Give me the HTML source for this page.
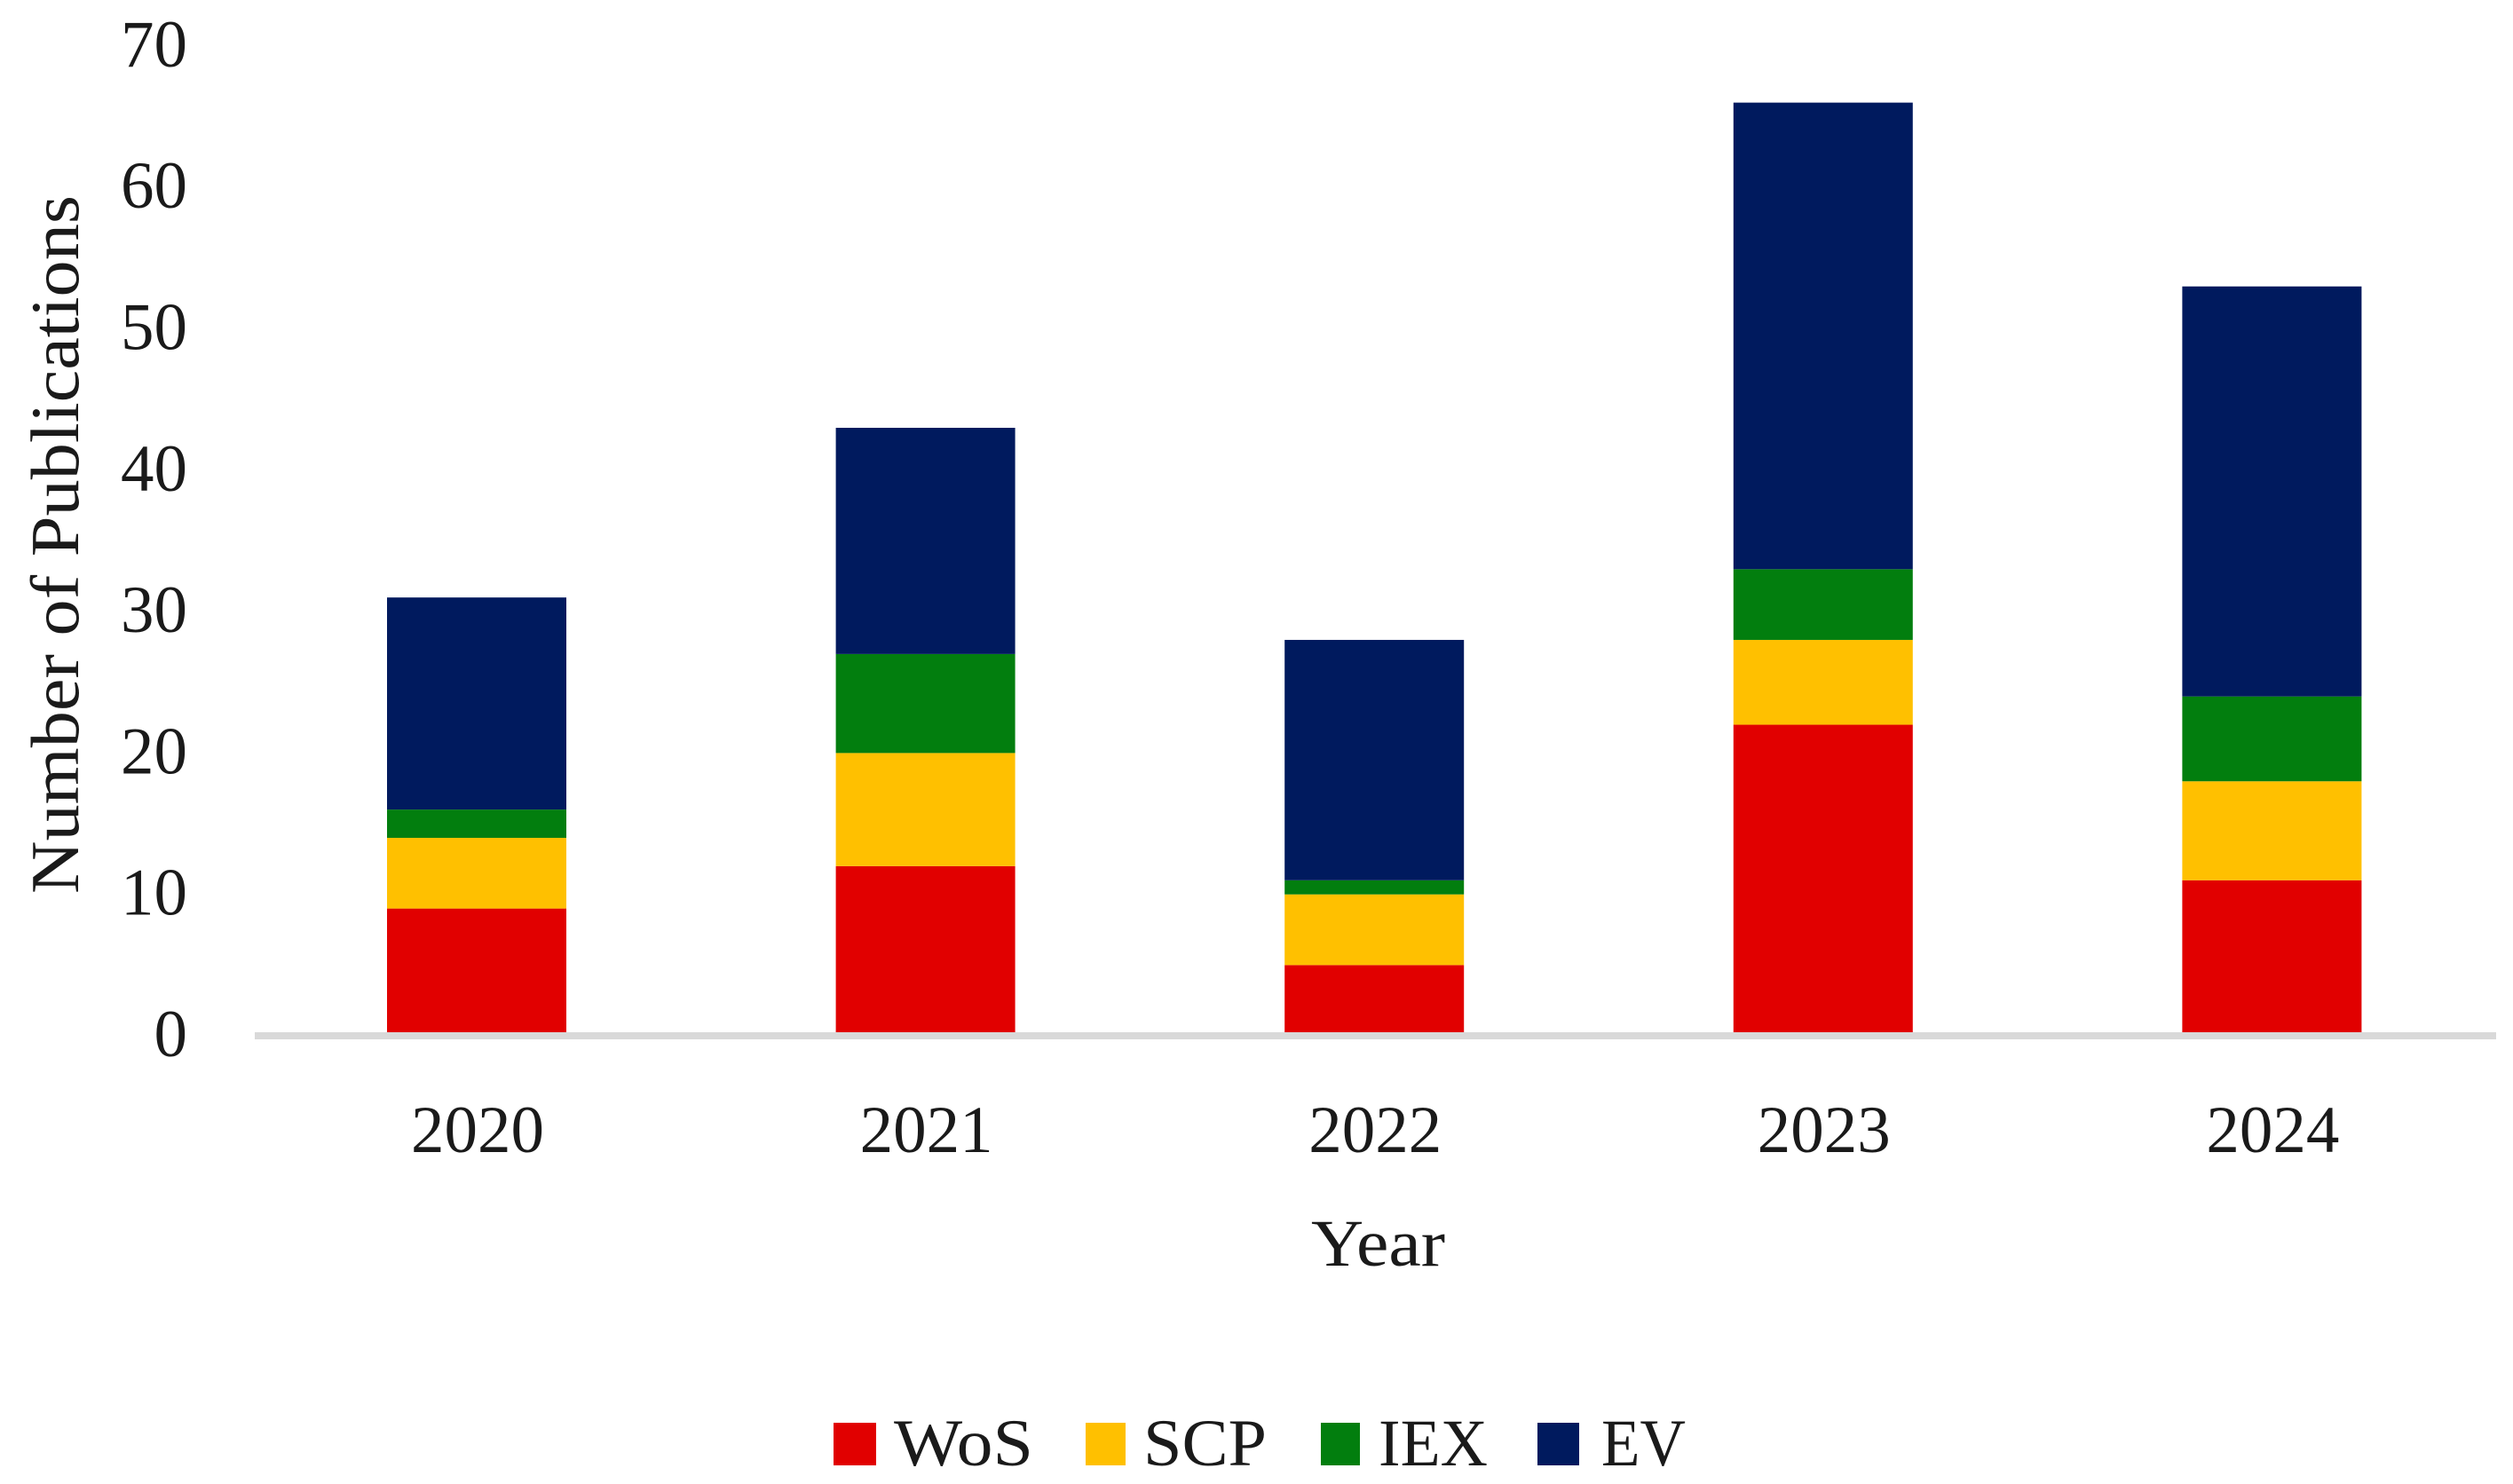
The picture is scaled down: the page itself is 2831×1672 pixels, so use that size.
<!DOCTYPE html>
<html lang="en">
<head>
<meta charset="utf-8">
<title>Number of Publications by Year</title>
<style>
html,body{margin:0;padding:0;background:#fff;}
svg{display:block;}
text{font-family:"Liberation Serif",serif;fill:#1a1a1a;}
</style>
</head>
<body>
<svg id="chart" xmlns="http://www.w3.org/2000/svg" width="2831" height="1672" viewBox="0 0 2831 1672">
  <rect x="0" y="0" width="2831" height="1672" fill="#fff"/>
  <g id="bars"></g>
  <rect x="287" y="1163" width="2525" height="8" fill="#d9d9d9"/>
  <g id="yticks"></g>
  <g id="xticks"></g>
  <text transform="translate(88,1007) rotate(-90)" font-size="77" textLength="787" lengthAdjust="spacingAndGlyphs">Number of Publications</text>
  <text x="1477" y="1426" font-size="75" textLength="151" lengthAdjust="spacingAndGlyphs">Year</text>
  <g id="legend"></g>
</svg>
<script>
const categories = ['2020', '2021', '2022', '2023', '2024'];
const wos = [9, 12, 5, 22, 11];
const scp = [5, 8, 5, 6, 7];
const iex = [2, 7, 1, 5, 6];
const ev = [15, 16, 17, 33, 29];
const yTickValues = [0, 10, 20, 30, 40, 50, 60, 70];
const seriesNames = ['WoS', 'SCP', 'IEX', 'EV'];

const NS = 'http://www.w3.org/2000/svg';
const seriesValues = [wos, scp, iex, ev];
const seriesColors = ['#e10000', '#ffc000', '#027e0e', '#001a5e'];

function yScale(v) { return 1167 - v * 15.93; }
function yLabelScale(v) { return 1190 - v * 15.93; }
function xCenter(i) { return 537 + 505.6 * i; }
const barWidth = 202;

const barsGroup = document.getElementById('bars');
categories.forEach(function (cat, i) {
  let cumulative = 0;
  seriesValues.forEach(function (values, s) {
    const top = cumulative + values[i];
    const r = document.createElementNS(NS, 'rect');
    r.setAttribute('x', xCenter(i) - barWidth / 2);
    r.setAttribute('y', yScale(top));
    r.setAttribute('width', barWidth);
    r.setAttribute('height', yScale(cumulative) - yScale(top));
    r.setAttribute('fill', seriesColors[s]);
    
    
    barsGroup.appendChild(r);
    cumulative = top;
  });
});

const yTicksGroup = document.getElementById('yticks');
yTickValues.forEach(function (v) {
  const t = document.createElementNS(NS, 'text');
  t.setAttribute('x', 211);
  t.setAttribute('y', yLabelScale(v));
  t.setAttribute('font-size', 75);
  t.setAttribute('text-anchor', 'end');
  
  
  t.textContent = String(v);
  yTicksGroup.appendChild(t);
});

const xTicksGroup = document.getElementById('xticks');
categories.forEach(function (cat, i) {
  const t = document.createElementNS(NS, 'text');
  t.setAttribute('x', xCenter(i) + 1);
  t.setAttribute('y', 1298);
  t.setAttribute('font-size', 75);
  t.setAttribute('text-anchor', 'middle');
  
  
  t.textContent = cat;
  xTicksGroup.appendChild(t);
});

const legendGroup = document.getElementById('legend');
const legendSwatchX = [939, 1223, 1488, 1732];
const legendSwatchW = [48, 45, 44, 47];
const legendTextX = [1007, 1288, 1553, 1804];
const legendTextW = [157, 139, 123, 95];
seriesNames.forEach(function (name, s) {
  const swatch = document.createElementNS(NS, 'rect');
  swatch.setAttribute('x', legendSwatchX[s]);
  swatch.setAttribute('y', 1603);
  swatch.setAttribute('width', legendSwatchW[s]);
  swatch.setAttribute('height', 48);
  swatch.setAttribute('fill', seriesColors[s]);
  
  
  legendGroup.appendChild(swatch);
  const label = document.createElementNS(NS, 'text');
  label.setAttribute('x', legendTextX[s]);
  label.setAttribute('y', 1651);
  label.setAttribute('font-size', 75);
  label.setAttribute('textLength', legendTextW[s]);
  label.setAttribute('lengthAdjust', 'spacingAndGlyphs');
  
  
  label.textContent = name;
  legendGroup.appendChild(label);
});
</script>
</body>
</html>
